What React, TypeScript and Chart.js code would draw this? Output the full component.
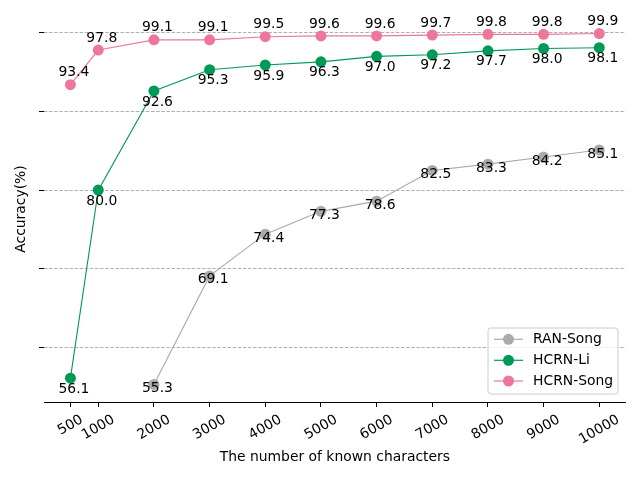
import React, { useEffect, useRef } from 'react';
import { Chart, registerables } from 'chart.js';
Chart.register(...registerables);

const xTicks = [500, 1000, 2000, 3000, 4000, 5000, 6000, 7000, 8000, 9000, 10000];
const ranSong: (number | null)[] = [null, null, 55.3, 69.1, 74.4, 77.3, 78.6, 82.5, 83.3, 84.2, 85.1];
const hcrnLi: (number | null)[] = [56.1, 80.0, 92.6, 95.3, 95.9, 96.3, 97.0, 97.2, 97.7, 98.0, 98.1];
const hcrnSong: (number | null)[] = [93.4, 97.8, 99.1, 99.1, 99.5, 99.6, 99.6, 99.7, 99.8, 99.8, 99.9];
const yTicks = [60, 70, 80, 90, 100];
const seriesNames = ['RAN-Song', 'HCRN-Li', 'HCRN-Song'];
const seriesColors = ['#aaaaaa', '#009a57', '#ee7799'];
const labelOffsetsY = [4, 11, -12];
const xTitle = 'The number of known characters';
const yTitle = 'Accuracy(%)';

const FONT = '13.9px "DejaVu Sans"';

function toPoints(vals: (number | null)[]) {
  const pts: { x: number; y: number }[] = [];
  vals.forEach((v, i) => {
    if (v !== null) pts.push({ x: xTicks[i], y: v });
  });
  return pts;
}

export default function App() {
  const ref = useRef<HTMLCanvasElement>(null);
  useEffect(() => {
    const canvas = ref.current;
    if (!canvas) return;
    const all = [...ranSong, ...hcrnLi, ...hcrnSong].filter((v) => v !== null) as number[];
    const ymin = Math.min(...all);
    const ymax = Math.max(...all);
    const ym = (ymax - ymin) * 0.05;
    const xm = (xTicks[xTicks.length - 1] - xTicks[0]) * 0.05;

    const textPlugin = {
      id: 'texts',
      afterDatasetsDraw(chart: any) {
        const ctx = chart.ctx;
        ctx.save();
        ctx.font = FONT;
        ctx.fillStyle = '#000';
        ctx.textAlign = 'center';
        ctx.textBaseline = 'middle';
        chart.data.datasets.forEach((ds: any, di: number) => {
          const meta = chart.getDatasetMeta(di);
          meta.data.forEach((el: any, i: number) => {
            const v = ds.data[i].y;
            ctx.fillText(v.toFixed(1), el.x + 3.5, el.y + labelOffsetsY[di]);
          });
        });
        ctx.restore();
      },
      afterDraw(chart: any) {
        const ctx = chart.ctx;
        const area = chart.chartArea;
        const xs = chart.scales.x;
        ctx.save();
        ctx.font = FONT;
        ctx.fillStyle = '#000';
        // x tick labels rotated 30deg, centered at tick
        const H = 13.9 * 1.17;
        const top = area.bottom + 9.7;
        const ang = (30 * Math.PI) / 180;
        xTicks.forEach((t) => {
          const label = String(t);
          const w = ctx.measureText(label).width;
          const h = w * Math.sin(ang) + H * Math.cos(ang);
          const cx = xs.getPixelForValue(t);
          const cy = top + h / 2;
          ctx.save();
          ctx.translate(cx, cy);
          ctx.rotate(-ang);
          ctx.textAlign = 'center';
          ctx.textBaseline = 'middle';
          ctx.fillText(label, 0, 0);
          ctx.restore();
        });
        // axis titles
        ctx.textAlign = 'center';
        ctx.textBaseline = 'middle';
        ctx.fillText(xTitle, (area.left + area.right) / 2, 457);
        ctx.save();
        ctx.translate(21, (area.top + area.bottom) / 2);
        ctx.rotate(-Math.PI / 2);
        ctx.fillText(yTitle, 0, 0);
        ctx.restore();
        // legend
        const lx = 488, ly = 328, lw = 130, lh = 66, r = 3;
        ctx.beginPath();
        ctx.moveTo(lx + r, ly);
        ctx.lineTo(lx + lw - r, ly);
        ctx.arcTo(lx + lw, ly, lx + lw, ly + r, r);
        ctx.lineTo(lx + lw, ly + lh - r);
        ctx.arcTo(lx + lw, ly + lh, lx + lw - r, ly + lh, r);
        ctx.lineTo(lx + r, ly + lh);
        ctx.arcTo(lx, ly + lh, lx, ly + lh - r, r);
        ctx.lineTo(lx, ly + r);
        ctx.arcTo(lx, ly, lx + r, ly, r);
        ctx.closePath();
        ctx.fillStyle = 'rgba(255,255,255,0.8)';
        ctx.fill();
        ctx.strokeStyle = '#cccccc';
        ctx.lineWidth = 1;
        ctx.stroke();
        const rows = [339.3, 360.3, 381];
        seriesNames.forEach((name, i) => {
          const y = rows[i];
          ctx.strokeStyle = seriesColors[i];
          ctx.lineWidth = 1.2;
          ctx.beginPath();
          ctx.moveTo(494, y);
          ctx.lineTo(523, y);
          ctx.stroke();
          ctx.fillStyle = seriesColors[i];
          ctx.beginPath();
          ctx.arc(508.5, y, 5.5, 0, Math.PI * 2);
          ctx.fill();
          ctx.fillStyle = '#000';
          ctx.textAlign = 'left';
          ctx.textBaseline = 'middle';
          ctx.fillText(name, 533, y);
        });
        ctx.restore();
      },
    };

    const seriesVals = [ranSong, hcrnLi, hcrnSong];
    const chart = new Chart(canvas, {
      type: 'line',
      data: {
        datasets: seriesVals.map((vals, i) => ({
          label: seriesNames[i],
          data: toPoints(vals),
          borderColor: seriesColors[i],
          backgroundColor: seriesColors[i],
          pointBackgroundColor: seriesColors[i],
          pointBorderColor: seriesColors[i],
          pointBorderWidth: 0,
          pointRadius: 5.5,
          pointHoverRadius: 5.5,
          borderWidth: 1.1,
          tension: 0,
          fill: false,
          order: 2 - i,
        })),
      },
      options: {
        animation: false,
        responsive: false,
        devicePixelRatio: 1,
        layout: { padding: { left: 0, right: 14.3, top: 16, bottom: 0 } },
        plugins: { legend: { display: false }, tooltip: { enabled: false } },
        events: [],
        scales: {
          x: {
            type: 'linear',
            min: xTicks[0] - xm,
            max: xTicks[xTicks.length - 1] + xm,
            afterBuildTicks: (scale: any) => {
              scale.ticks = xTicks.map((v) => ({ value: v }));
            },
            afterFit: (scale: any) => {
              scale.height = 78;
            },
            ticks: { display: false },
            grid: {
              display: true,
              drawOnChartArea: false,
              drawTicks: true,
              tickLength: 5,
              tickColor: '#000',
              tickWidth: 1,
              lineWidth: 1,
            },
            border: { display: true, color: '#000', width: 1 },
          },
          y: {
            type: 'linear',
            min: ymin - ym,
            max: ymax + ym,
            afterBuildTicks: (scale: any) => {
              scale.ticks = yTicks.map((v) => ({ value: v }));
            },
            afterFit: (scale: any) => {
              scale.width = 44;
            },
            ticks: { display: false },
            grid: {
              display: true,
              drawOnChartArea: true,
              drawTicks: true,
              tickLength: 5,
              tickColor: '#000',
              tickWidth: 1,
              tickBorderDash: [],
              color: '#b0b0b0',
              lineWidth: 1,
            },
            border: { display: false, dash: [3.5, 1.6] },
          },
        },
      },
      plugins: [textPlugin],
    } as any);
    return () => chart.destroy();
  }, []);
  return (
    <div style={{ position: 'absolute', left: 0, top: 0, width: 640, height: 480, background: '#fff' }}>
      <canvas ref={ref} width={640} height={480} style={{ display: 'block' }} />
    </div>
  );
}
